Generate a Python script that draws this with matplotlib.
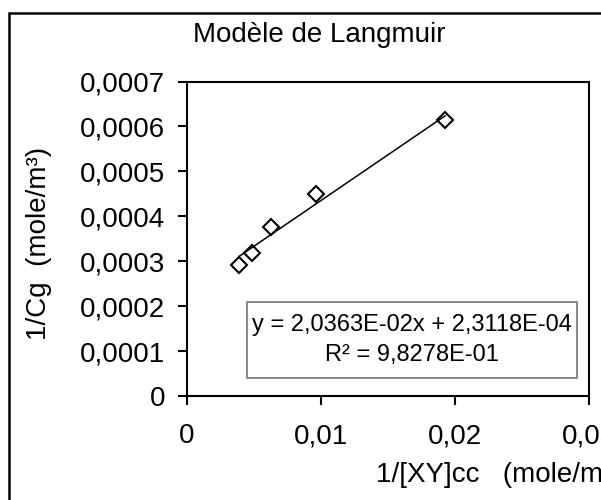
import matplotlib
matplotlib.use("Agg")
import matplotlib.pyplot as plt
from matplotlib.patches import Rectangle
import numpy as np

plt.rcParams['font.family'] = ['Liberation Sans', 'DejaVu Sans']

# data
inv_xy = [0.00389, 0.00489, 0.00631, 0.00963, 0.01928]
inv_cg = [0.0002926, 0.0003187, 0.000376, 0.0004505, 0.0006143]

# trendline as printed on the chart
slope = 2.0363e-02
intercept = 2.3118e-04
r2_text = "R² = 9,8278E-01"
eq_text = "y = 2,0363E-02x + 2,3118E-04"

x_ticks = [0, 0.01, 0.02, 0.03]
x_ticklabels = ["0", "0,01", "0,02", "0,03"]
y_ticks = [0, 0.0001, 0.0002, 0.0003, 0.0004, 0.0005, 0.0006, 0.0007]
y_ticklabels = ["0", "0,0001", "0,0002", "0,0003", "0,0004", "0,0005", "0,0006", "0,0007"]

fig = plt.figure(figsize=(6.01, 5.0), dpi=100)
fig.patch.set_facecolor("white")

# outer chart frame (cut on right and bottom like the original)
frame = Rectangle((9.3 / 601, -0.2), 1.2, 0.975 + 0.2, transform=fig.transFigure,
                  fill=False, edgecolor="black", linewidth=1.8, clip_on=False)
fig.patches.append(frame)

ax = fig.add_axes([186.7 / 601, 104 / 500, 402.3 / 601, 314.5 / 500])

xl = np.array([min(inv_xy), max(inv_xy)])
ax.plot(xl, slope * xl + intercept, color="black", linewidth=1.1, zorder=2)
ax.plot(inv_xy, inv_cg, linestyle="none", marker="D", markersize=8.6,
        markerfacecolor="none", markeredgecolor="black", markeredgewidth=1.5, zorder=3)

ax.set_xlim(0, 0.03)
ax.set_ylim(0, 0.0007)
ax.set_xticks(x_ticks)
ax.set_xticklabels(x_ticklabels)
ax.set_yticks(y_ticks)
ax.set_yticklabels(y_ticklabels)
ax.tick_params(axis="both", direction="out", length=6.5, width=1.5, labelsize=20, colors="black")
ax.tick_params(axis="y", pad=9)
ax.tick_params(axis="x", pad=13)
for s in ax.spines.values():
    s.set_linewidth(1.5)
    s.set_color("black")

# equation box
box = Rectangle((0.149, 0.057), 0.821, 0.243, transform=ax.transAxes,
                facecolor="white", edgecolor="#808080", linewidth=1.3, zorder=4)
ax.add_patch(box)
ax.text(0.56, 0.226, eq_text, transform=ax.transAxes, ha="center", va="center",
        fontsize=17, zorder=5)
ax.text(0.56, 0.130, r2_text, transform=ax.transAxes, ha="center", va="center",
        fontsize=17, zorder=5)

fig.text(319 / 601, 1 - 35 / 500, "Modèle de Langmuir", ha="center", va="center", fontsize=20)
fig.text(39 / 601, 1 - 243 / 500, "1/Cg  (mole/m³)", rotation=90, ha="center", va="center",
         fontsize=20)
fig.text(376 / 601, 1 - 475 / 500, "1/[XY]cc   (mole/m³)", ha="left", va="center", fontsize=20)

fig.savefig("out.png", dpi=100, facecolor="white")
